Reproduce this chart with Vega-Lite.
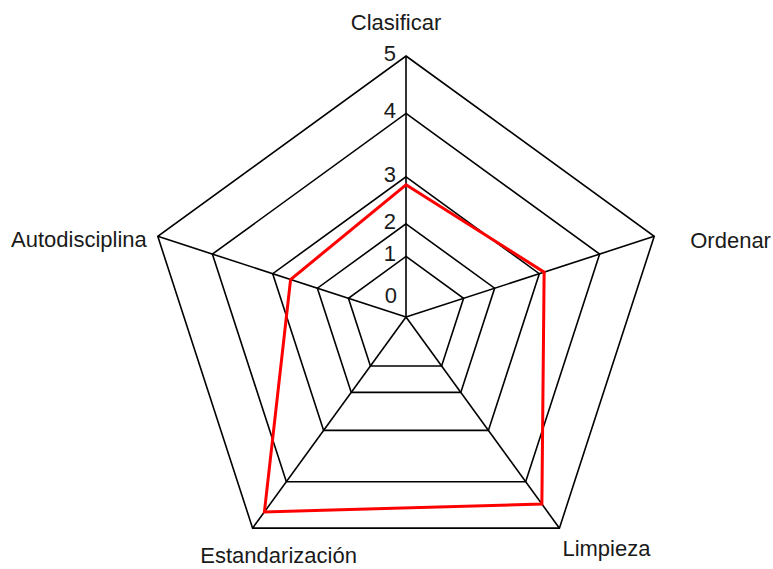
{
  "$schema": "https://vega.github.io/schema/vega-lite/v6.json",
  "width": 773,
  "height": 569,
  "padding": 0,
  "autosize": {"type": "none"},
  "background": "white",
  "config": {"view": {"stroke": null}, "text": {"font": "Liberation Sans", "fontSize": 22, "color": "#1a1a1a"}},
  "data": {
    "values": [
      {"eje": "Clasificar", "orden": 0, "valor": 2.83, "niveles": [0, 1, 2, 3, 4, 5]},
      {"eje": "Ordenar", "orden": 1, "valor": 3.08, "niveles": [0, 1, 2, 3, 4, 5]},
      {"eje": "Limpieza", "orden": 2, "valor": 4.48, "niveles": [0, 1, 2, 3, 4, 5]},
      {"eje": "Estandarización", "orden": 3, "valor": 4.65, "niveles": [0, 1, 2, 3, 4, 5]},
      {"eje": "Autodisciplina", "orden": 4, "valor": 2.6, "niveles": [0, 1, 2, 3, 4, 5]}
    ]
  },
  "transform": [
    {"calculate": "datum.orden * 2 * PI / 5", "as": "ang"},
    {"calculate": "sin(datum.ang)", "as": "ox"},
    {"calculate": "cos(datum.ang)", "as": "oy"}
  ],
  "layer": [
    {
      "transform": [
        {"flatten": ["niveles"], "as": ["nivel"]},
        {"filter": "datum.nivel > 0"},
        {"calculate": "(datum.nivel<=1 ? datum.nivel*0.232 : datum.nivel<=2 ? 0.232+(datum.nivel-1)*0.125 : datum.nivel<=3 ? 0.357+(datum.nivel-2)*0.18 : datum.nivel<=4 ? 0.537+(datum.nivel-3)*0.243 : 0.78+(datum.nivel-4)*0.22)", "as": "rr"},
        {"calculate": "datum.rr * datum.ox", "as": "gx"},
        {"calculate": "datum.rr * datum.oy", "as": "gy"}
      ],
      "mark": {"type": "line", "interpolate": "linear-closed", "color": "#000000", "strokeWidth": 1.6},
      "encoding": {
        "x": {"field": "gx", "type": "quantitative", "scale": {"domain": [-1.5556, 1.4061], "nice": false, "zero": false}, "axis": null},
        "y": {"field": "gy", "type": "quantitative", "scale": {"domain": [-0.9655, 1.2146], "nice": false, "zero": false}, "axis": null},
        "detail": {"field": "nivel", "type": "nominal"},
        "order": {"field": "orden", "type": "quantitative"}
      }
    },
    {
      "mark": {"type": "rule", "color": "#000000", "strokeWidth": 1.6},
      "encoding": {
        "x": {"field": "ox", "type": "quantitative", "scale": {"domain": [-1.5556, 1.4061], "nice": false, "zero": false}, "axis": null},
        "y": {"field": "oy", "type": "quantitative", "scale": {"domain": [-0.9655, 1.2146], "nice": false, "zero": false}, "axis": null},
        "x2": {"datum": 0},
        "y2": {"datum": 0}
      }
    },
    {
      "transform": [
        {"calculate": "(datum.valor<=1 ? datum.valor*0.232 : datum.valor<=2 ? 0.232+(datum.valor-1)*0.125 : datum.valor<=3 ? 0.357+(datum.valor-2)*0.18 : datum.valor<=4 ? 0.537+(datum.valor-3)*0.243 : 0.78+(datum.valor-4)*0.22)", "as": "rr"},
        {"calculate": "datum.rr * datum.ox", "as": "vx"},
        {"calculate": "datum.rr * datum.oy", "as": "vy"}
      ],
      "mark": {"type": "line", "interpolate": "linear-closed", "color": "#ff0000", "strokeWidth": 3},
      "encoding": {
        "x": {"field": "vx", "type": "quantitative", "scale": {"domain": [-1.5556, 1.4061], "nice": false, "zero": false}, "axis": null},
        "y": {"field": "vy", "type": "quantitative", "scale": {"domain": [-0.9655, 1.2146], "nice": false, "zero": false}, "axis": null},
        "order": {"field": "orden", "type": "quantitative"}
      }
    },
    {
      "transform": [
        {"filter": "datum.orden == 0"},
        {"flatten": ["niveles"], "as": ["nivel"]},
        {"filter": "datum.nivel > 0"},
        {"calculate": "(datum.nivel<=1 ? datum.nivel*0.232 : datum.nivel<=2 ? 0.232+(datum.nivel-1)*0.125 : datum.nivel<=3 ? 0.357+(datum.nivel-2)*0.18 : datum.nivel<=4 ? 0.537+(datum.nivel-3)*0.243 : 0.78+(datum.nivel-4)*0.22)", "as": "rr"}
      ],
      "mark": {"type": "text", "align": "right", "baseline": "alphabetic", "dx": -10, "dy": 5},
      "encoding": {
        "x": {"datum": 0, "type": "quantitative", "scale": {"domain": [-1.5556, 1.4061], "nice": false, "zero": false}, "axis": null},
        "y": {"field": "rr", "type": "quantitative", "scale": {"domain": [-0.9655, 1.2146], "nice": false, "zero": false}, "axis": null},
        "text": {"field": "nivel", "type": "quantitative"}
      }
    },
    {
      "transform": [
        {"filter": "datum.orden == 0"},
        {"flatten": ["niveles"], "as": ["nivel"]},
        {"filter": "datum.nivel == 0"}
      ],
      "mark": {"type": "text", "align": "right", "baseline": "alphabetic", "dx": -9, "dy": -14},
      "encoding": {
        "x": {"datum": 0, "type": "quantitative", "scale": {"domain": [-1.5556, 1.4061], "nice": false, "zero": false}, "axis": null},
        "y": {"datum": 0, "type": "quantitative", "scale": {"domain": [-0.9655, 1.2146], "nice": false, "zero": false}, "axis": null},
        "text": {"field": "nivel", "type": "quantitative"}
      }
    },
    {
      "transform": [{"filter": "datum.eje == 'Clasificar'"}],
      "mark": {"type": "text", "align": "center", "baseline": "alphabetic", "dx": -10, "dy": -26},
      "encoding": {
        "x": {"field": "ox", "type": "quantitative", "scale": {"domain": [-1.5556, 1.4061], "nice": false, "zero": false}, "axis": null},
        "y": {"field": "oy", "type": "quantitative", "scale": {"domain": [-0.9655, 1.2146], "nice": false, "zero": false}, "axis": null},
        "text": {"field": "eje", "type": "nominal"}
      }
    },
    {
      "transform": [{"filter": "datum.eje == 'Ordenar'"}],
      "mark": {"type": "text", "align": "left", "baseline": "alphabetic", "dx": 36, "dy": 12},
      "encoding": {
        "x": {"field": "ox", "type": "quantitative", "scale": {"domain": [-1.5556, 1.4061], "nice": false, "zero": false}, "axis": null},
        "y": {"field": "oy", "type": "quantitative", "scale": {"domain": [-0.9655, 1.2146], "nice": false, "zero": false}, "axis": null},
        "text": {"field": "eje", "type": "nominal"}
      }
    },
    {
      "transform": [{"filter": "datum.eje == 'Autodisciplina'"}],
      "mark": {"type": "text", "align": "right", "baseline": "alphabetic", "dx": -11, "dy": 11},
      "encoding": {
        "x": {"field": "ox", "type": "quantitative", "scale": {"domain": [-1.5556, 1.4061], "nice": false, "zero": false}, "axis": null},
        "y": {"field": "oy", "type": "quantitative", "scale": {"domain": [-0.9655, 1.2146], "nice": false, "zero": false}, "axis": null},
        "text": {"field": "eje", "type": "nominal"}
      }
    },
    {
      "transform": [{"filter": "datum.eje == 'Limpieza'"}],
      "mark": {"type": "text", "align": "left", "baseline": "alphabetic", "dx": 3, "dy": 28},
      "encoding": {
        "x": {"field": "ox", "type": "quantitative", "scale": {"domain": [-1.5556, 1.4061], "nice": false, "zero": false}, "axis": null},
        "y": {"field": "oy", "type": "quantitative", "scale": {"domain": [-0.9655, 1.2146], "nice": false, "zero": false}, "axis": null},
        "text": {"field": "eje", "type": "nominal"}
      }
    },
    {
      "transform": [{"filter": "datum.eje == 'Estandarización'"}],
      "mark": {"type": "text", "align": "center", "baseline": "alphabetic", "dx": 26, "dy": 35},
      "encoding": {
        "x": {"field": "ox", "type": "quantitative", "scale": {"domain": [-1.5556, 1.4061], "nice": false, "zero": false}, "axis": null},
        "y": {"field": "oy", "type": "quantitative", "scale": {"domain": [-0.9655, 1.2146], "nice": false, "zero": false}, "axis": null},
        "text": {"field": "eje", "type": "nominal"}
      }
    }
  ]
}
